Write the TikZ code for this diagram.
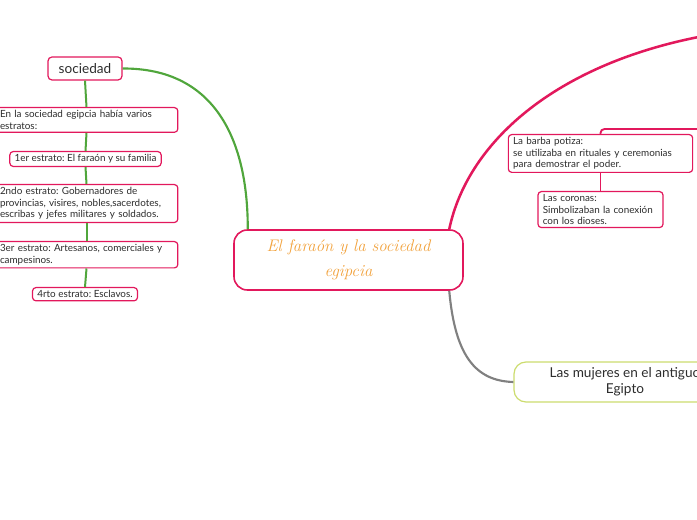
\documentclass[tikz,border=0pt]{standalone}
\usepackage{fontspec}
\setmainfont{Lato}
\newfontfamily\titlefont{Latin Modern Roman}
\usetikzlibrary{arrows.meta}
\definecolor{crim}{RGB}{226,24,92}
\definecolor{leaf}{RGB}{80,166,60}
\definecolor{lime}{RGB}{204,220,110}
\definecolor{gold}{RGB}{242,162,60}
\definecolor{ink}{RGB}{45,45,45}
\frenchspacing

\begin{document}
\begin{tikzpicture}[x=0.75pt,y=-0.75pt,line width=0.8pt,>=Stealth,
  stratum/.style={draw=crim,line width=0.9pt,rounded corners=2.5pt,fill=white,text=ink,
    align=left,inner xsep=3.6pt,inner ysep=2.2pt,font=\fontsize{7.4}{8.6}\selectfont},
  central/.style={draw=crim,line width=1.2pt,rounded corners=10pt,fill=white,text=gold,
    align=center,minimum width=171.75pt,minimum height=45pt,
    font=\titlefont\itshape\fontsize{12.6}{18}\selectfont},
  topic/.style={draw=crim,line width=0.9pt,rounded corners=3pt,fill=white,text=ink,
    minimum width=55.5pt,minimum height=17.25pt,font=\fontsize{10.2}{12}\selectfont},
  link/.style={line width=1.6pt}]
\useasboundingbox (0,0) rectangle (697,520);
\clip (0,0) rectangle (697,520);
% ---------- central topic ----------
\node[central] (faraon) at (348.5,260) {El faraón y la sociedad\\[1pt]egipcia};
% ---------- sociedad (left) ----------
\node[topic] (sociedad) at (85,68.5) {sociedad};
\node[stratum,anchor=north,text width=129.75pt] (intro) at (86.5,107)
  {En la sociedad egipcia había varios\\estratos:};
\node[stratum,anchor=north] (est1) at (85.5,151) {1er estrato: El faraón y su familia};
\node[stratum,anchor=north,text width=129.75pt] (est2) at (86.5,184)
  {2ndo estrato: Gobernadores de\\provincias, visires, nobles,sacerdotes,\\escribas y jefes militares y soldados.};
\node[stratum,anchor=north,text width=129.75pt] (est3) at (86.5,241)
  {3er estrato: Artesanos, comerciales y\\campesinos.};
\node[stratum,anchor=north] (est4) at (85,287) {4rto estrato: Esclavos.};
\draw[leaf,link] (sociedad.east) .. controls (215,68) and (248,140) .. (faraon.163);
\foreach \a/\b in {sociedad/intro,intro/est1,est1/est2,est2/est3,est3/est4}
  \draw[leaf,line width=1.5pt] (\a.south) -- (\b.north);
% ---------- right branch ----------
\coordinate (crimend) at (715,34);
\coordinate (barbaend) at (710,129);
\draw[crim,line width=1.9pt] (faraon.17) .. controls (468,140) and (560,60) .. (crimend);
\node[stratum,anchor=north,text width=131pt] (barba) at (600.5,134)
  {La barba potiza:\\se utilizaba en rituales y ceremonias\\para demostrar el poder.};
\node[stratum,anchor=north,text width=86.5pt] (coronas) at (600.5,191)
  {Las coronas:\\Simbolizaban la conexión\\con los dioses.};
\draw[crim,line width=1.4pt,rounded corners=3pt] (barba.north) |- (barbaend);
\draw[crim,line width=1.4pt] (barba.south) -- (coronas.north);
% ---------- mujeres ----------
\node[draw=lime,line width=0.9pt,rounded corners=9pt,fill=white,text=ink,align=center,
  minimum width=166.5pt,minimum height=30pt,font=\fontsize{10.2}{12}\selectfont]
  (mujeres) at (625,382) {Las mujeres en el antiguo\\Egipto};
\draw[gray,link] (faraon.-17) .. controls (455,355) and (475,381) .. (mujeres.west);
\end{tikzpicture}
\end{document}
